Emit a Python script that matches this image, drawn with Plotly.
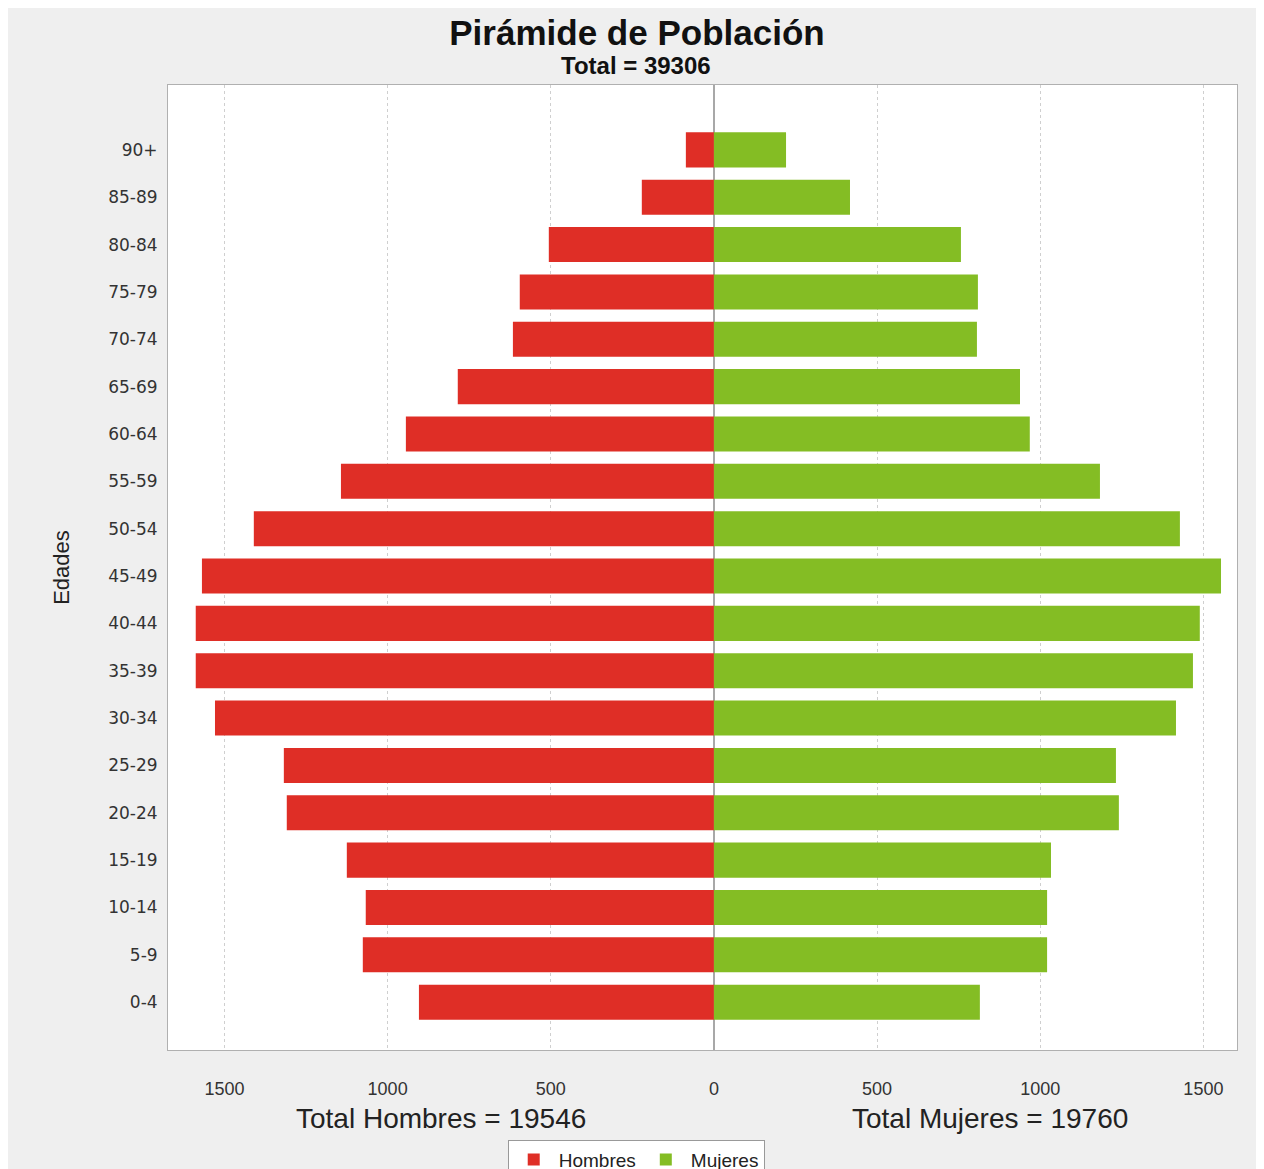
import plotly.graph_objects as go
import numpy as np

edades = ["0-4", "5-9", "10-14", "15-19", "20-24", "25-29", "30-34", "35-39",
          "40-44", "45-49", "50-54", "55-59", "60-64", "65-69", "70-74",
          "75-79", "80-84", "85-89", "90+"]
hombres = [904, 1076, 1067, 1125, 1309, 1318, 1529, 1588, 1588, 1569,
           1410, 1143, 944, 785, 616, 595, 506, 221, 86]
mujeres = [815, 1021, 1021, 1033, 1241, 1232, 1416, 1468, 1489, 1554,
           1428, 1183, 968, 938, 806, 809, 757, 417, 221]
total = 39306
total_hombres = 19546
total_mujeres = 19760
tick_vals = [-1500, -1000, -500, 0, 500, 1000, 1500]

rojo = "#df2e26"
verde = "#84bd24"

fig = go.Figure()
fig.add_trace(go.Bar(y=edades, x=-np.array(hombres), orientation="h", name="Hombres",
                     marker=dict(color=rojo, line=dict(width=0)),
                     customdata=hombres, hovertemplate="%{y}: %{customdata}<extra>Hombres</extra>"))
fig.add_trace(go.Bar(y=edades, x=mujeres, orientation="h", name="Mujeres",
                     marker=dict(color=verde, line=dict(width=0)),
                     hovertemplate="%{y}: %{x}<extra>Mujeres</extra>"))

fig.update_layout(
    width=1264, height=1169,
    margin=dict(l=160, r=35, t=77, b=127, autoexpand=False),
    barmode="relative", bargap=0.26,
    paper_bgcolor="#efefef", plot_bgcolor="white",
    font=dict(family="Liberation Sans, Arial, sans-serif", color="#222222"),
    title=dict(text="<b>Pirámide de Población</b>",
               x=0.4976, xanchor="center", y=0.9786, yanchor="middle",
               font=dict(size=35, color="#111111")),
    legend=dict(orientation="h", x=0.438, xanchor="center", y=-0.093, yanchor="top",
                bgcolor="white", bordercolor="#999999", borderwidth=1,
                font=dict(size=19), traceorder="normal", itemwidth=40),
    annotations=[
        dict(text="<b>Total = %d</b>" % total, x=0.438, y=1.0197, xanchor="center",
             yanchor="middle", xref="paper", yref="paper", showarrow=False,
             font=dict(size=24, color="#111111")),
        dict(text="Total Hombres = %d" % total_hombres, x=0.2554, y=-0.071,
             xanchor="center", yanchor="middle",
             xref="paper", yref="paper", showarrow=False, font=dict(size=28)),
        dict(text="Total Mujeres = %d" % total_mujeres, x=0.769, y=-0.071,
             xanchor="center", yanchor="middle",
             xref="paper", yref="paper", showarrow=False, font=dict(size=28)),
    ],
)

fig.update_xaxes(range=[-1673, 1603], tickvals=tick_vals,
                 ticktext=[str(abs(v)) for v in tick_vals],
                 tickfont=dict(size=18, color="#333333"),
                 showgrid=True, gridcolor="#cfcfcf", griddash="dot",
                 zeroline=True, zerolinecolor="#a8a8a8", zerolinewidth=1.5,
                 showline=True, linecolor="#b0b0b0", mirror=True,
                 ticks="", ticklabelstandoff=22)
fig.update_yaxes(range=[-1.01, 19.37], categoryorder="array", categoryarray=edades,
                 tickfont=dict(family="DejaVu Sans, Verdana, sans-serif", size=17, color="#333333"),
                 title=dict(text="Edades", font=dict(size=22, color="#222222"), standoff=32),
                 showgrid=False, showline=True, linecolor="#b0b0b0", mirror=True,
                 ticks="", ticklabelstandoff=6)

fig.write_html("out.html")
